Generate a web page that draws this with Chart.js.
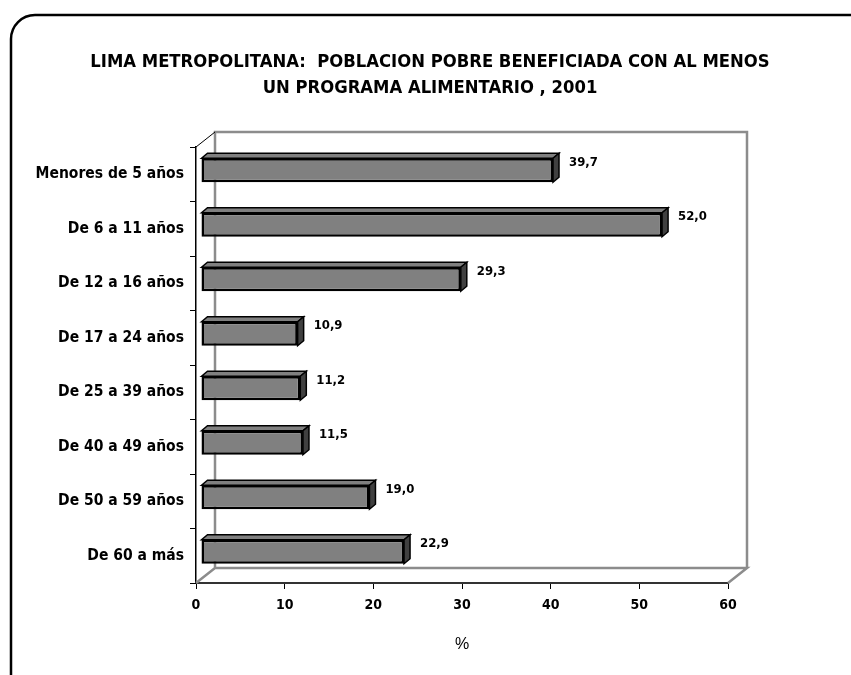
<!DOCTYPE html>
<html>
<head>
<meta charset="utf-8">
<script src="https://cdn.jsdelivr.net/npm/chart.js@4.4.0/dist/chart.umd.min.js"></script>
<style>
  html, body { margin: 0; padding: 0; background: #fff; }
  #wrap { width: 851px; height: 675px; }
</style>
</head>
<body>
<div id="wrap"><canvas id="chart" width="851" height="675"></canvas></div>
<script>
const categories = ["Menores de 5 años", "De 6 a 11 años", "De 12 a 16 años", "De 17 a 24 años",
  "De 25 a 39 años", "De 40 a 49 años", "De 50 a 59 años", "De 60 a más"];
const values = [39.7, 52.0, 29.3, 10.9, 11.2, 11.5, 19.0, 22.9];
const valueLabels = ["39,7", "52,0", "29,3", "10,9", "11,2", "11,5", "19,0", "22,9"];
const xTicks = [0, 10, 20, 30, 40, 50, 60];
const titleLines = ["LIMA METROPOLITANA:  POBLACION POBRE BENEFICIADA CON AL MENOS",
  "UN PROGRAMA ALIMENTARIO , 2001"];
const axisTitle = "%";

const NARROW = "'Liberation Sans Narrow', 'Arial Narrow', 'DejaVu Sans Condensed', sans-serif";
Chart.defaults.font.family = NARROW;
Chart.defaults.color = "#000";

// 3D offsets: back wall, bar front face, bar depth
const WALL = { dx: 19, dy: -15 };
const FACE = { dx: 5, dy: -4 };
const DEPTH = { dx: 6, dy: -5 };

const threeD = {
  id: "threeD",
  beforeDatasetsDraw(chart) {
    const { ctx, chartArea: a } = chart;
    ctx.save();
    ctx.strokeStyle = "#8c8c8c";
    ctx.lineWidth = 2.5;
    ctx.beginPath();
    ctx.moveTo(a.left, a.bottom);
    ctx.lineTo(a.left + WALL.dx, a.bottom + WALL.dy);
    ctx.lineTo(a.right + WALL.dx, a.bottom + WALL.dy);
    ctx.lineTo(a.right, a.bottom);
    ctx.moveTo(a.left + WALL.dx, a.bottom + WALL.dy);
    ctx.lineTo(a.left + WALL.dx, a.top + WALL.dy);
    ctx.lineTo(a.right + WALL.dx, a.top + WALL.dy);
    ctx.lineTo(a.right + WALL.dx, a.bottom + WALL.dy);
    ctx.stroke();
    ctx.strokeStyle = "#000";
    ctx.lineWidth = 1;
    ctx.beginPath();
    ctx.moveTo(a.left, a.top);
    ctx.lineTo(a.left + WALL.dx, a.top + WALL.dy);
    ctx.stroke();
    ctx.restore();
    ctx.save();
    ctx.translate(FACE.dx, FACE.dy);
  },
  afterDatasetsDraw(chart) {
    const { ctx } = chart;
    const meta = chart.getDatasetMeta(0);
    ctx.lineWidth = 1.5;
    ctx.strokeStyle = "#000";
    ctx.lineJoin = "miter";
    meta.data.forEach((bar) => {
      const { x, y, base, height } = bar.getProps(["x", "y", "base", "height"], true);
      const top = y - height / 2, bot = y + height / 2;
      ctx.fillStyle = "#808080";
      ctx.beginPath();
      ctx.moveTo(base, top);
      ctx.lineTo(base + DEPTH.dx, top + DEPTH.dy);
      ctx.lineTo(x + DEPTH.dx, top + DEPTH.dy);
      ctx.lineTo(x, top);
      ctx.closePath();
      ctx.fill();
      ctx.stroke();
      ctx.fillStyle = "#404040";
      ctx.beginPath();
      ctx.moveTo(x, top);
      ctx.lineTo(x + DEPTH.dx, top + DEPTH.dy);
      ctx.lineTo(x + DEPTH.dx, bot + DEPTH.dy);
      ctx.lineTo(x, bot);
      ctx.closePath();
      ctx.fill();
      ctx.stroke();
    });
    ctx.restore();

    ctx.save();
    ctx.fillStyle = "#000";
    ctx.font = "bold 13px " + NARROW;
    ctx.textAlign = "left";
    ctx.textBaseline = "middle";
    meta.data.forEach((bar, i) => {
      ctx.fillText(valueLabels[i], bar.x + 21, bar.y - 12);
    });
    ctx.restore();
  },
  afterDraw(chart) {
    const { ctx } = chart;
    ctx.save();
    // title
    ctx.fillStyle = "#000";
    ctx.font = "bold 18.3px " + NARROW;
    ctx.textAlign = "center";
    ctx.textBaseline = "middle";
    ctx.fillText(titleLines[0], 430, 62);
    ctx.fillText(titleLines[1], 430, 88);
    // rounded frame running off the page
    const r = 24;
    ctx.strokeStyle = "#000";
    ctx.lineWidth = 2.5;
    ctx.beginPath();
    ctx.moveTo(11, 700);
    ctx.lineTo(11, 15 + r);
    ctx.arcTo(11, 15, 11 + r, 15, r);
    ctx.lineTo(900, 15);
    ctx.stroke();
    ctx.restore();
  }
};

new Chart(document.getElementById("chart"), {
  type: "bar",
  data: {
    labels: categories,
    datasets: [{
      data: values,
      backgroundColor: "#808080",
      borderColor: "#000",
      borderWidth: 2.5,
      borderSkipped: false,
      barPercentage: 0.44,
      categoryPercentage: 1
    }]
  },
  options: {
    indexAxis: "y",
    responsive: false,
    animation: false,
    layout: { padding: { left: 20, right: 123, top: 147, bottom: 21 } },
    plugins: { legend: { display: false }, tooltip: { enabled: false }, title: { display: false } },
    scales: {
      x: {
        min: 0,
        max: 60,
        afterBuildTicks(scale) { scale.ticks = xTicks.map((v) => ({ value: v })); },
        afterFit(scale) { scale.height = 71; },
        ticks: { font: { size: 14, weight: "bold" }, padding: 8, color: "#000" },
        grid: { drawOnChartArea: false, drawTicks: true, tickLength: 6, color: "#000" },
        border: { color: "#333", width: 2 },
        title: {
          display: true,
          text: axisTitle,
          font: { family: "'Liberation Sans', Arial, sans-serif", size: 16 },
          padding: { top: 0, bottom: 0 },
          color: "#000"
        }
      },
      y: {
        afterFit(scale) { scale.width = 176; },
        ticks: { font: { size: 15.5, weight: "bold" }, padding: 6, color: "#000" },
        grid: { drawOnChartArea: false, drawTicks: true, tickLength: 6, color: "#000", offset: true },
        border: { color: "#000", width: 1.5 }
      }
    }
  },
  plugins: [threeD]
});
</script>
</body>
</html>
